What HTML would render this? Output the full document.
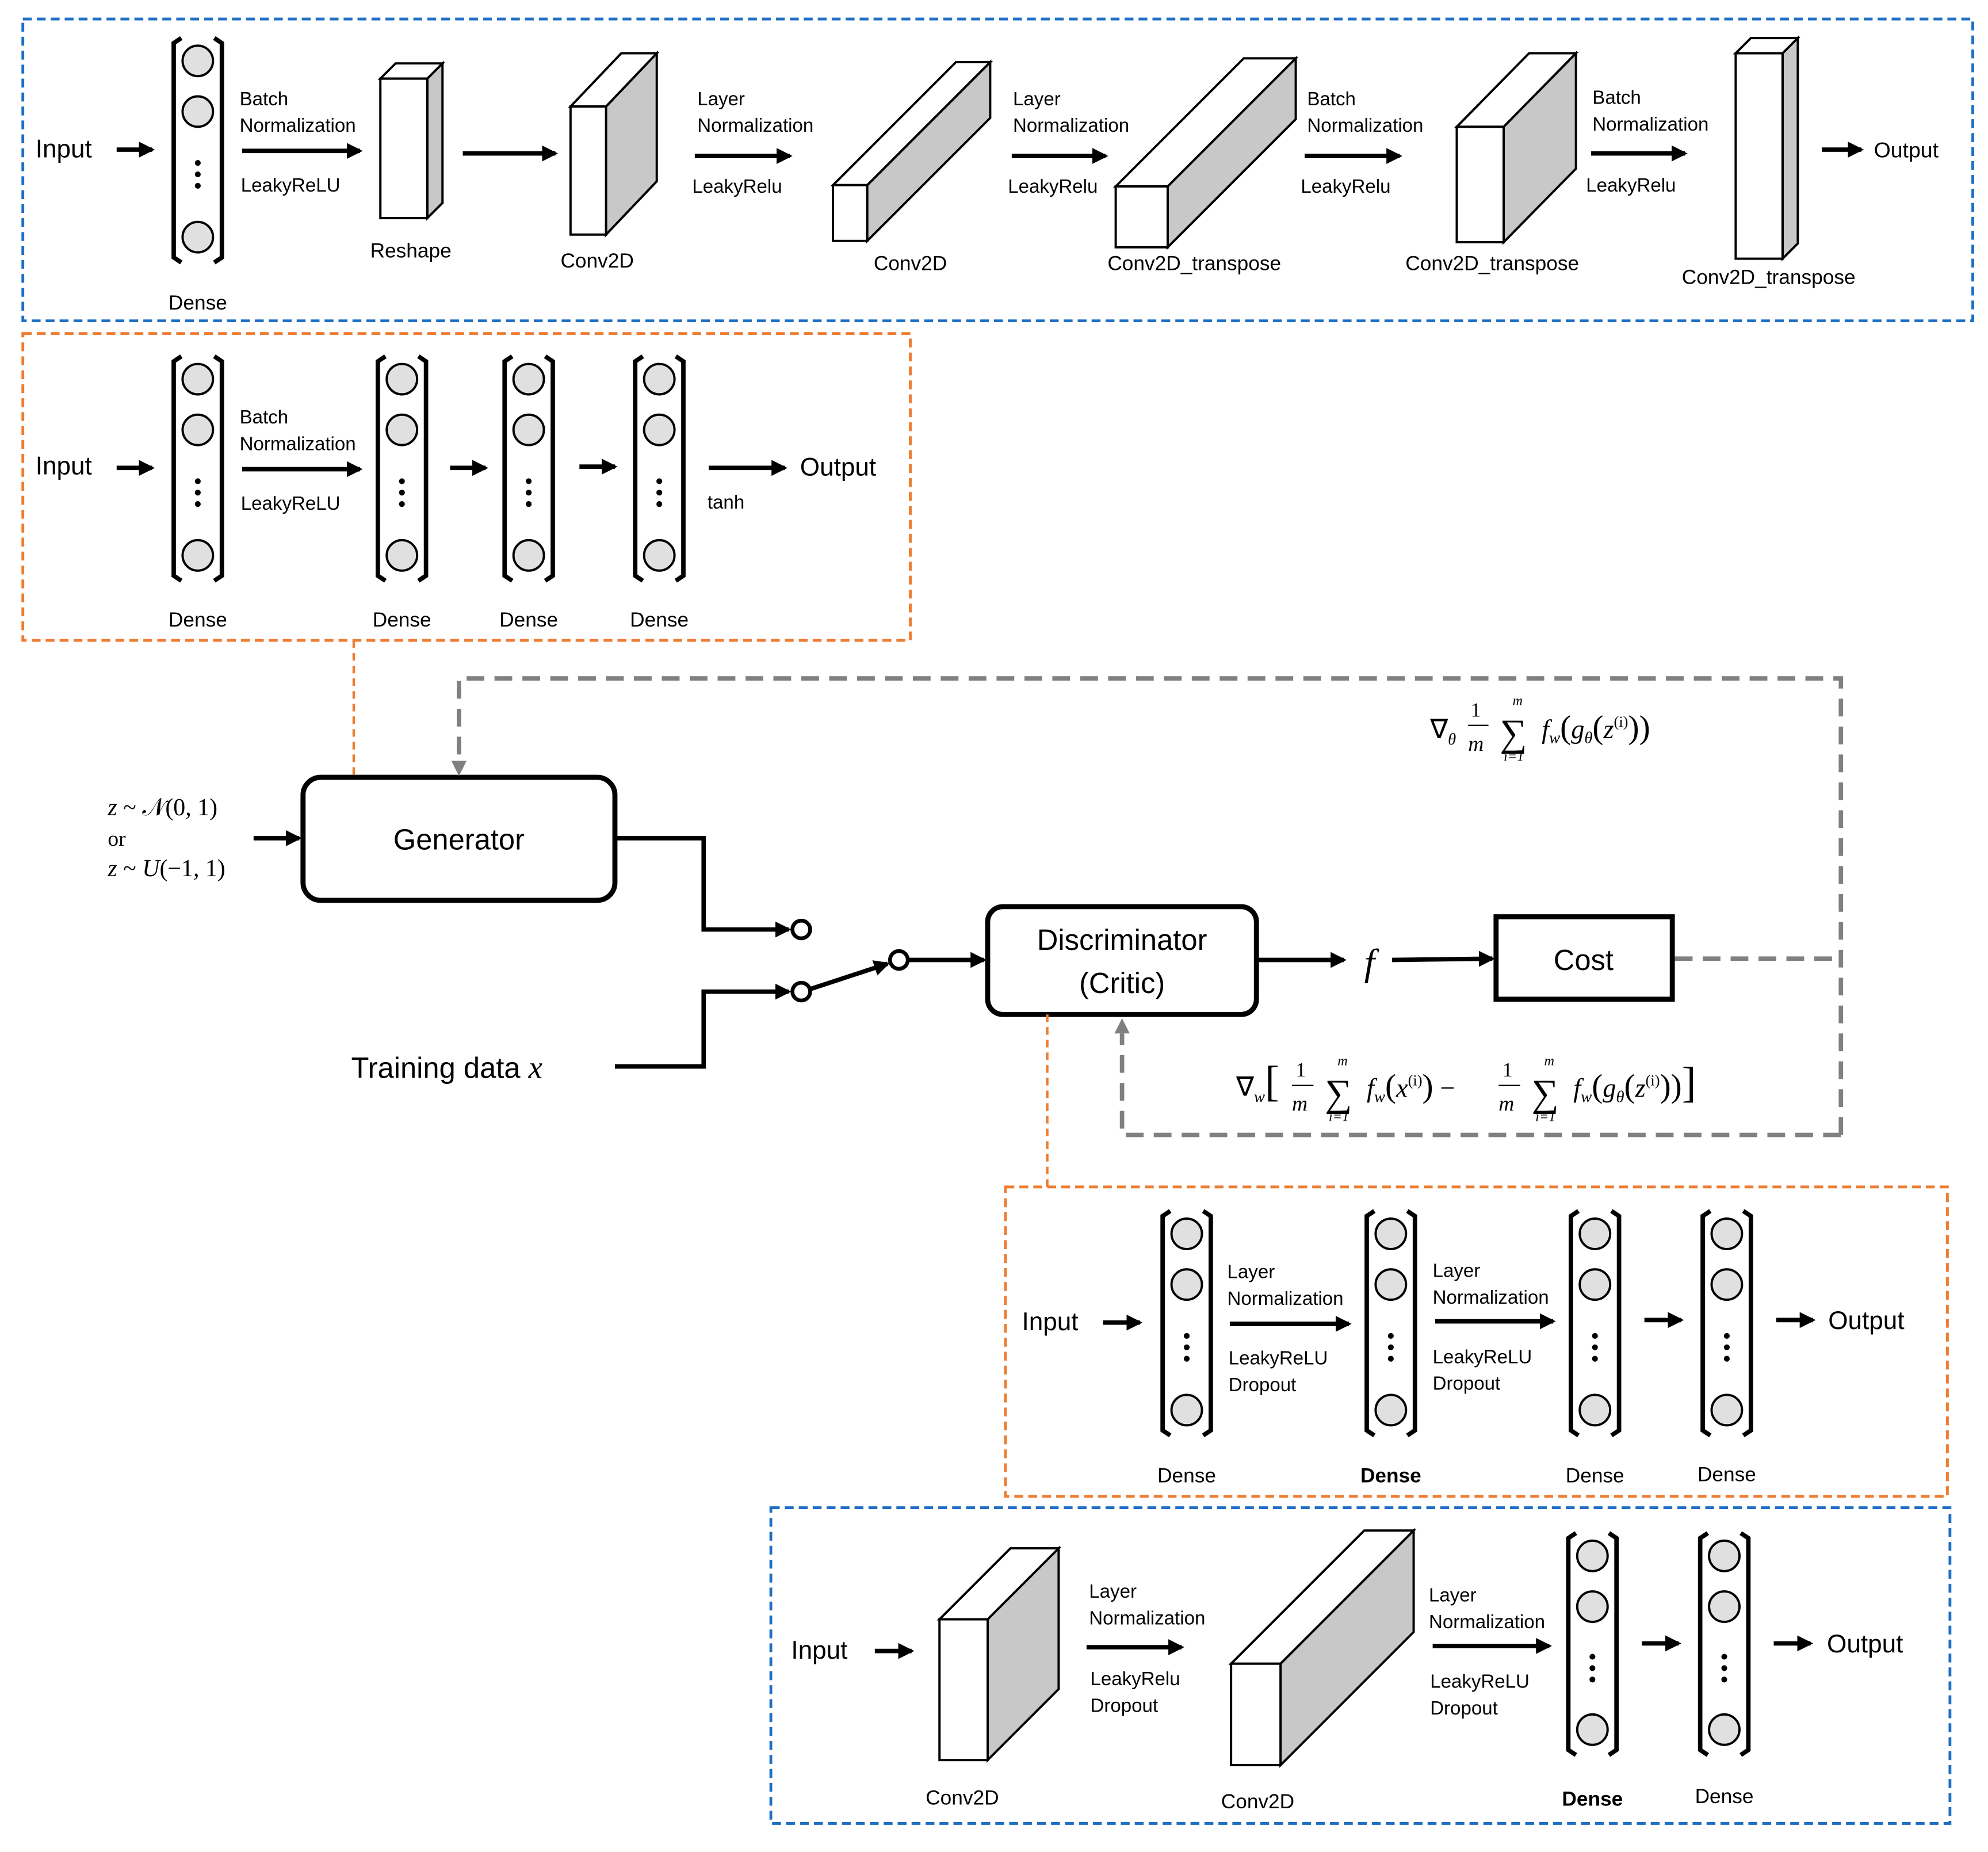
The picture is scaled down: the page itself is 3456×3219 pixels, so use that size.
<!DOCTYPE html>
<html><head><meta charset="utf-8">
<style>
html,body{margin:0;padding:0;background:#fff;}
svg{display:block;}
text{font-family:"Liberation Sans",sans-serif;fill:#000;}
.m{font-family:"Liberation Serif",serif;}
</style></head>
<body>
<svg id="s" width="3456" height="3219" viewBox="0 0 1568 1460.5" xmlns="http://www.w3.org/2000/svg">
<defs>
<marker id="ah" markerWidth="3.6" markerHeight="3.6" refX="3" refY="1.8" orient="auto" markerUnits="strokeWidth"><path d="M0,0 L3.6,1.8 L0,3.6 z" fill="#000"/></marker>
</defs>
<rect width="1568" height="1461" fill="#fff"/>
<rect x="18" y="15" width="1538" height="238" fill="none" stroke="#1f6fc5" stroke-width="2.2" stroke-dasharray="7,4"/>
<rect x="18" y="263" width="700" height="242" fill="none" stroke="#ed7d31" stroke-width="2.2" stroke-dasharray="7,4"/>
<rect x="793" y="936" width="743" height="244" fill="none" stroke="#ed7d31" stroke-width="2.2" stroke-dasharray="7,4"/>
<rect x="608" y="1189" width="930" height="249" fill="none" stroke="#1f6fc5" stroke-width="2.2" stroke-dasharray="7,4"/>
<g id="g"></g>
<rect x="239" y="613" width="246" height="97" rx="14" fill="#fff" stroke="#000" stroke-width="4"/>
<text x="362" y="670" font-size="23" text-anchor="middle">Generator</text>
<rect x="779" y="715" width="212" height="85" rx="12" fill="#fff" stroke="#000" stroke-width="4"/>
<text x="885" y="749" font-size="23" text-anchor="middle">Discriminator</text>
<text x="885" y="783" font-size="23" text-anchor="middle">(Critic)</text>
<rect x="1180" y="723" width="139" height="65" fill="#fff" stroke="#000" stroke-width="4"/>
<text x="1249" y="765" font-size="23" text-anchor="middle">Cost</text>
<text x="277" y="850" font-size="23">Training data <tspan class="m" font-style="italic" font-size="25">x</tspan></text>
<text x="85" y="643" font-size="19" class="m"><tspan font-style="italic">z</tspan> ~ 𝒩(0, 1)</text>
<text x="85" y="667" font-size="17" class="m">or</text>
<text x="85" y="691" font-size="19" class="m"><tspan font-style="italic">z</tspan> ~ <tspan font-style="italic">U</tspan>(−1, 1)</text>
<g stroke="#000" stroke-width="3.5" fill="none">
<line x1="200" y1="661" x2="236" y2="661" marker-end="url(#ah)"/>
<polyline points="485,661 555,661 555,733 622,733" marker-end="url(#ah)"/>
<polyline points="485,841 555,841 555,782 622,782" marker-end="url(#ah)"/>
<line x1="639" y1="780" x2="700" y2="760" marker-end="url(#ah)"/>
<line x1="716" y1="757" x2="776" y2="757" marker-end="url(#ah)"/>
<line x1="991" y1="757" x2="1060" y2="757" marker-end="url(#ah)"/>
<line x1="1098" y1="757" x2="1177" y2="756" marker-end="url(#ah)"/>
</g>
<g fill="#fff" stroke="#000" stroke-width="3"><circle cx="632" cy="733" r="7"/><circle cx="632" cy="782" r="7"/><circle cx="709" cy="757" r="7"/></g>
<text x="1076" y="769" font-size="30" class="m" font-style="italic">f</text>
<g stroke="#808080" stroke-width="3.5" fill="none" stroke-dasharray="14,8">
<polyline points="1321,756 1452,756"/>
<polyline points="1452,895 1452,535 362,535 362,600"/>
<polyline points="1452,895 885,895 885,815"/>
</g>
<path d="M356,600 L368,600 L362,612 z" fill="#808080"/>
<path d="M879,815 L891,815 L885,803 z" fill="#808080"/>
<g stroke="#ed7d31" stroke-width="2" stroke-dasharray="6,4"><line x1="279" y1="505" x2="279" y2="613"/><line x1="826" y1="800" x2="826" y2="936"/></g>
<text x="1128" y="582" font-size="21" class="m">∇<tspan font-size="13" font-style="italic" dy="5">θ</tspan></text>
<text x="1160" y="565" font-size="16" class="m">1</text><line x1="1158" y1="572" x2="1174" y2="572" stroke="#000"/><text x="1158" y="592" font-size="17" class="m" font-style="italic">m</text>
<text x="1183" y="588" font-size="30" class="m">∑</text><text x="1193" y="556" font-size="11" class="m" font-style="italic">m</text><text x="1186" y="600" font-size="11" class="m" font-style="italic">i=1</text>
<text x="1216" y="582" font-size="21" class="m" font-style="italic">f<tspan font-size="13" dy="4">w</tspan><tspan dy="-4" font-style="normal" font-size="26">(</tspan>g<tspan font-size="13" dy="4">θ</tspan><tspan dy="-4" font-style="normal" font-size="26">(</tspan>z<tspan font-size="12" dy="-9" font-style="normal">(i)</tspan><tspan dy="9" font-style="normal" font-size="26">))</tspan></text>
<text x="975" y="864" font-size="21" class="m">∇<tspan font-size="13" font-style="italic" dy="5">w</tspan><tspan dy="-5" font-size="34">[</tspan></text>
<text x="1022" y="849" font-size="16" class="m">1</text><line x1="1019" y1="856" x2="1036" y2="856" stroke="#000"/><text x="1019" y="876" font-size="17" class="m" font-style="italic">m</text>
<text x="1045" y="872" font-size="30" class="m">∑</text><text x="1055" y="840" font-size="11" class="m" font-style="italic">m</text><text x="1048" y="884" font-size="11" class="m" font-style="italic">i=1</text>
<text x="1078" y="865" font-size="21" class="m" font-style="italic">f<tspan font-size="13" dy="4">w</tspan><tspan dy="-4" font-style="normal" font-size="26">(</tspan>x<tspan font-size="12" dy="-9" font-style="normal">(i)</tspan><tspan dy="9" font-style="normal" font-size="26">)</tspan><tspan font-style="normal"> − </tspan></text>
<text x="1185" y="849" font-size="16" class="m">1</text><line x1="1182" y1="856" x2="1199" y2="856" stroke="#000"/><text x="1182" y="876" font-size="17" class="m" font-style="italic">m</text>
<text x="1208" y="872" font-size="30" class="m">∑</text><text x="1218" y="840" font-size="11" class="m" font-style="italic">m</text><text x="1211" y="884" font-size="11" class="m" font-style="italic">i=1</text>
<text x="1241" y="865" font-size="21" class="m" font-style="italic">f<tspan font-size="13" dy="4">w</tspan><tspan dy="-4" font-style="normal" font-size="26">(</tspan>g<tspan font-size="13" dy="4">θ</tspan><tspan dy="-4" font-style="normal" font-size="26">(</tspan>z<tspan font-size="12" dy="-9" font-style="normal">(i)</tspan><tspan dy="9" font-style="normal" font-size="26">))</tspan><tspan font-style="normal" font-size="34">]</tspan></text>
</svg>
<script>
var g=document.getElementById('g'),h='';
function T(x,y,s,sz,anc,b){h+='<text x="'+x+'" y="'+y+'" font-size="'+(sz||15)+'"'+(anc?' text-anchor="'+anc+'"':'')+(b?' font-weight="bold"':'')+'>'+s+'</text>';}
function A(x1,y1,x2){h+='<line x1="'+x1+'" y1="'+y1+'" x2="'+(x2-2)+'" y2="'+y1+'" stroke="#000" stroke-width="3.5" marker-end="url(#ah)"/>';}
function D(x,y1,y2,lab,ly,b){
 var L=x-19,R=x+19;
 h+='<path d="M'+(L+6)+','+y1+' L'+L+','+(y1+4)+' L'+L+','+(y2-4)+' L'+(L+6)+','+y2+'" fill="none" stroke="#000" stroke-width="3.5"/>';
 h+='<path d="M'+(R-6)+','+y1+' L'+R+','+(y1+4)+' L'+R+','+(y2-4)+' L'+(R-6)+','+y2+'" fill="none" stroke="#000" stroke-width="3.5"/>';
 var cs=[y1+18,y1+58,y2-20];
 cs.forEach(function(c){h+='<circle cx="'+x+'" cy="'+c+'" r="12" fill="#e0e0e0" stroke="#000" stroke-width="1.8"/>';});
 var m=(cs[1]+cs[2])/2;
 [-9,0,9].forEach(function(d){h+='<circle cx="'+x+'" cy="'+(m+d)+'" r="2.3" fill="#000"/>';});
 T(x,ly,lab,16,'middle',b);
}
function C(x,y,w,hh,dx,dy){
 h+='<path d="M'+(x+w)+','+y+' L'+(x+w+dx)+','+(y+dy)+' L'+(x+w+dx)+','+(y+hh+dy)+' L'+(x+w)+','+(y+hh)+' z" fill="#c8c8c8" stroke="#000" stroke-width="1.8"/>';
 h+='<path d="M'+x+','+y+' L'+(x+dx)+','+(y+dy)+' L'+(x+w+dx)+','+(y+dy)+' L'+(x+w)+','+y+' z" fill="#fff" stroke="#000" stroke-width="1.8"/>';
 h+='<rect x="'+x+'" y="'+y+'" width="'+w+'" height="'+hh+'" fill="#fff" stroke="#000" stroke-width="1.8"/>';
}
function TL(x,y,lines){lines.forEach(function(s,i){T(x,y+i*21,s,15);});}
T(28,124,'Input',20);A(92,118,122);
D(156,30,207,'Dense',244);
TL(189,83,['Batch','Normalization']);A(191,119,286);T(190,151,'LeakyReLU',15);
C(300,62,37,110,12,-12);T(324,203,'Reshape',16,'middle');
A(365,121,440);
C(450,84,28,101,40,-42);T(471,211,'Conv2D',16,'middle');
TL(550,83,['Layer','Normalization']);A(548,123,625);T(546,152,'LeakyRelu',15);
C(657,146,27,44,97,-97);T(718,213,'Conv2D',16,'middle');
TL(799,83,['Layer','Normalization']);A(798,123,874);T(795,152,'LeakyRelu',15);
C(880,147,41,48,101,-101);T(942,213,'Conv2D_transpose',16,'middle');
TL(1031,83,['Batch','Normalization']);A(1029,123,1106);T(1026,152,'LeakyRelu',15);
C(1149,100,37,91,57,-58);T(1177,213,'Conv2D_transpose',16,'middle');
TL(1256,82,['Batch','Normalization']);A(1255,121,1331);T(1251,151,'LeakyRelu',15);
C(1369,42,37,162,12,-12);T(1395,224,'Conv2D_transpose',16,'middle');
A(1437,118,1470);T(1478,124,'Output',17);
T(28,374,'Input',20);A(92,369,122);
D(156,281,458,'Dense',494);
TL(189,334,['Batch','Normalization']);A(191,370,286);T(190,402,'LeakyReLU',15);
D(317,281,458,'Dense',494);A(355,369,385);
D(417,281,458,'Dense',494);A(457,368,487);
D(520,281,458,'Dense',494);
A(559,369,621);T(558,401,'tanh',15);T(631,375,'Output',20);
T(806,1049,'Input',20);A(870,1043,901);
D(936,955,1132,'Dense',1169);
TL(968,1008,['Layer','Normalization']);A(970,1044,1066);TL(969,1076,['LeakyReLU','Dropout']);
D(1097,955,1132,'Dense',1169,1);
TL(1130,1007,['Layer','Normalization']);A(1132,1042,1227);TL(1130,1075,['LeakyReLU','Dropout']);
D(1258,955,1132,'Dense',1169);A(1297,1041,1328);
D(1362,955,1132,'Dense',1168);A(1401,1041,1432);T(1442,1048,'Output',20);
T(624,1308,'Input',20);A(690,1302,721);
C(741,1277,38,111,56,-56);T(759,1423,'Conv2D',16,'middle');
TL(859,1260,['Layer','Normalization']);A(857,1299,934);TL(860,1329,['LeakyRelu','Dropout']);
C(971,1312,39,80,105,-105);T(992,1426,'Conv2D',16,'middle');
TL(1127,1263,['Layer','Normalization']);A(1130,1298,1224);TL(1128,1331,['LeakyReLU','Dropout']);
D(1256,1209,1384,'Dense',1424,1);A(1295,1296,1326);
D(1360,1209,1384,'Dense',1422);A(1399,1296,1430);T(1441,1303,'Output',20);
g.innerHTML=h;
</script>
</body></html>
